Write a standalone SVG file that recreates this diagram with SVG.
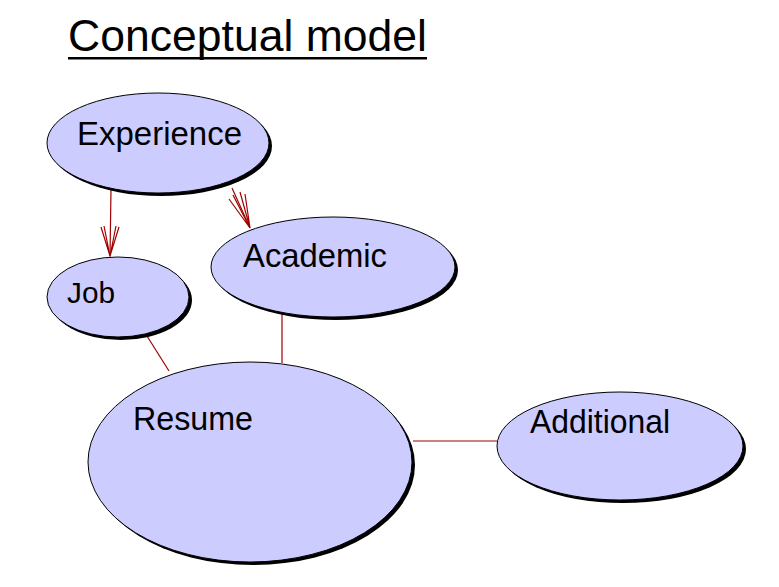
<svg xmlns="http://www.w3.org/2000/svg" width="779" height="587" viewBox="0 0 779 587">
<style>
.shadow{fill:#000}
.node{fill:#ccccff;stroke:#000;stroke-width:1}
.lbl{font-family:"Liberation Sans",Arial,sans-serif;font-size:34px;fill:#000}
.conn{stroke:#a00000;stroke-width:1.2;fill:none}
</style>
<rect width="779" height="587" fill="#fff"/>
<g id="title">
<text x="68" y="51" font-family="Liberation Sans, Arial, sans-serif" font-size="45" textLength="359" lengthAdjust="spacingAndGlyphs" fill="#000">Conceptual model</text>
<rect x="68" y="57" width="359" height="2.5" fill="#000"/>
</g>
<g id="connectors">
<line class="conn" x1="111" y1="190" x2="110" y2="256"/>
<path class="conn" d="M101,227 L110,256 L119,227 M104,226 L110,256 L116,226"/>
<line class="conn" x1="232" y1="188" x2="250" y2="228"/>
<path class="conn" d="M229,199 L250,228 L245,194 M233,195 L250,228 L240,192"/>
<line class="conn" x1="147" y1="336" x2="169" y2="371"/>
<line class="conn" x1="282" y1="314" x2="282" y2="363"/>
<line class="conn" x1="413" y1="441" x2="497" y2="441"/>
</g>
<g id="experience">
<ellipse class="shadow" cx="161" cy="146" rx="111" ry="50"/>
<ellipse class="node" cx="158" cy="143" rx="111" ry="50"/>
<text class="lbl" x="77" y="145" textLength="165" lengthAdjust="spacingAndGlyphs">Experience</text>
</g>
<g id="job">
<ellipse class="shadow" cx="121" cy="300" rx="71" ry="40"/>
<ellipse class="node" cx="118" cy="297" rx="71" ry="40"/>
<text class="lbl" x="67" y="303" style="font-size:30px" textLength="48" lengthAdjust="spacingAndGlyphs">Job</text>
</g>
<g id="academic">
<ellipse class="shadow" cx="336" cy="270" rx="122" ry="50"/>
<ellipse class="node" cx="333" cy="267" rx="122" ry="50"/>
<text class="lbl" x="243" y="267" textLength="144" lengthAdjust="spacingAndGlyphs">Academic</text>
</g>
<g id="resume">
<ellipse class="shadow" cx="253" cy="465" rx="162" ry="100"/>
<ellipse class="node" cx="250" cy="462" rx="162" ry="100"/>
<text class="lbl" x="133" y="430" textLength="120" lengthAdjust="spacingAndGlyphs">Resume</text>
</g>
<g id="additional">
<ellipse class="shadow" cx="623" cy="449" rx="123" ry="54"/>
<ellipse class="node" cx="620" cy="446" rx="123" ry="54"/>
<text class="lbl" x="530" y="433" textLength="140" lengthAdjust="spacingAndGlyphs">Additional</text>
</g>
</svg>
